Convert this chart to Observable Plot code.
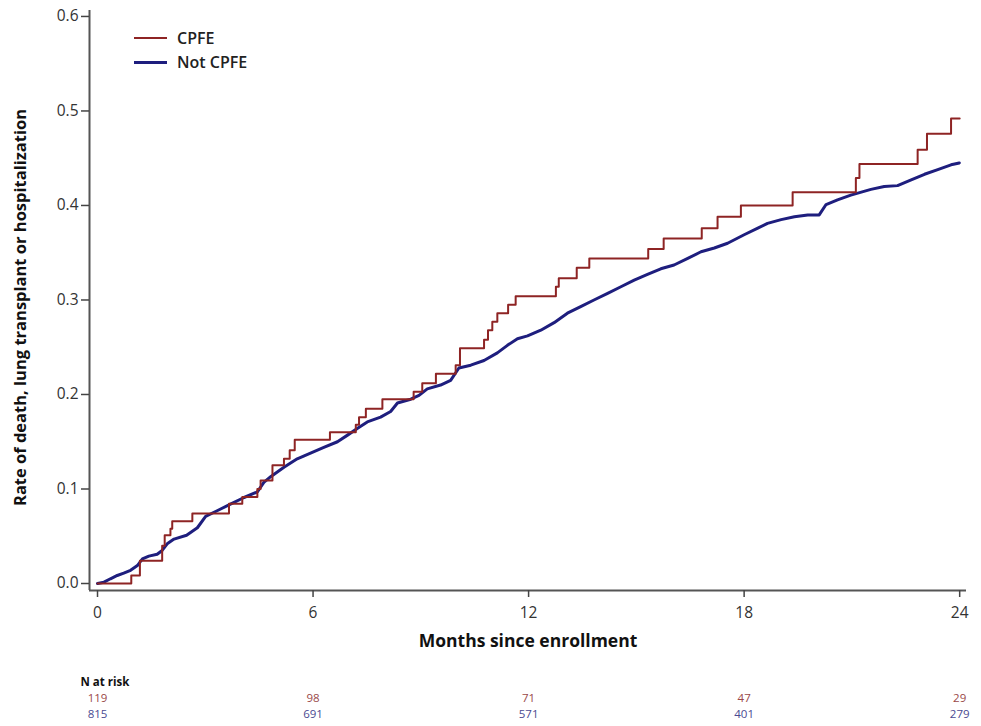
<!DOCTYPE html>
<html>
<head>
<meta charset="utf-8">
<script src="https://cdn.jsdelivr.net/npm/d3@7"></script>
<script src="https://cdn.jsdelivr.net/npm/@observablehq/plot@0.6"></script>
<style>
  html, body { margin: 0; padding: 0; background: #fff; }
  #wrap { position: relative; width: 981px; height: 726px; font-family: "Open Sans", sans-serif; }
  #legend { position: absolute; left: 134px; top: 26px; font: 600 16px "Open Sans", sans-serif; color: #222; }
  .lg { display: flex; align-items: center; height: 24px; }
  .sw { width: 33px; height: 0; margin-right: 10px; }
</style>
</head>
<body>
<div id="wrap">
  <div id="chart"></div>
  <div id="legend">
    <div class="lg"><span class="sw" style="border-top:2.5px solid #8e2424"></span>CPFE</div>
    <div class="lg"><span class="sw" style="border-top:3px solid #1e1e7e"></span>Not CPFE</div>
  </div>
</div>
<script>
// ---- Data ----
const cpfeMonths = [0, 0.94, 1.18, 1.80, 1.87, 2.03, 2.08, 2.64, 3.66, 4.03, 4.45, 4.54, 4.87, 5.19, 5.35, 5.49, 6.47, 7.19, 7.28, 7.47, 7.93, 8.80, 9.04, 9.42, 9.97, 10.09, 10.76, 10.87, 10.99, 11.13, 11.43, 11.64, 12.76, 12.84, 13.34, 13.69, 15.33, 15.76, 16.82, 17.26, 17.91, 19.35, 21.11, 21.21, 22.83, 23.09, 23.76, 24.0];
const cpfeRate   = [0, 0.0084, 0.024, 0.040, 0.051, 0.058, 0.066, 0.074, 0.0845, 0.0915, 0.100, 0.109, 0.125, 0.132, 0.141, 0.152, 0.160, 0.168, 0.176, 0.185, 0.195, 0.203, 0.212, 0.222, 0.231, 0.249, 0.258, 0.268, 0.277, 0.286, 0.295, 0.304, 0.314, 0.323, 0.334, 0.344, 0.354, 0.365, 0.376, 0.388, 0.400, 0.414, 0.429, 0.444, 0.459, 0.476, 0.492, 0.492];

const notMonths = [0, 0.18, 0.36, 0.55, 0.73, 0.92, 1.11, 1.25, 1.43, 1.66, 1.80, 1.94, 2.13, 2.48, 2.78, 3.01, 3.33, 3.70, 4.08, 4.45, 4.63, 4.82, 5.19, 5.56, 5.93, 6.30, 6.68, 6.96, 7.23, 7.51, 7.88, 8.16, 8.35, 8.72, 8.95, 9.18, 9.55, 9.83, 10.06, 10.39, 10.76, 11.13, 11.41, 11.69, 11.97, 12.34, 12.71, 13.08, 13.45, 13.82, 14.20, 14.57, 14.94, 15.31, 15.68, 16.05, 16.43, 16.80, 17.17, 17.54, 18.00, 18.38, 18.65, 19.03, 19.40, 19.77, 20.09, 20.28, 20.60, 20.97, 21.53, 21.90, 22.27, 22.65, 23.02, 23.39, 23.76, 23.99];
const notRate   = [0, 0.0014, 0.005, 0.0085, 0.011, 0.014, 0.019, 0.026, 0.029, 0.031, 0.035, 0.042, 0.047, 0.051, 0.059, 0.071, 0.077, 0.084, 0.091, 0.097, 0.107, 0.113, 0.123, 0.132, 0.138, 0.144, 0.150, 0.157, 0.164, 0.171, 0.176, 0.182, 0.191, 0.195, 0.199, 0.206, 0.210, 0.215, 0.228, 0.231, 0.236, 0.244, 0.252, 0.259, 0.262, 0.268, 0.276, 0.286, 0.293, 0.300, 0.307, 0.314, 0.321, 0.327, 0.333, 0.337, 0.344, 0.351, 0.355, 0.360, 0.369, 0.376, 0.381, 0.385, 0.388, 0.390, 0.390, 0.401, 0.406, 0.411, 0.417, 0.420, 0.421, 0.427, 0.433, 0.438, 0.443, 0.445];

const riskMonths = [0, 6, 12, 18, 24];
const riskCPFE   = [119, 98, 71, 47, 29];
const riskNot    = [815, 691, 571, 401, 279];

const xTicks = [0, 6, 12, 18, 24];
const yTicks = [0, 0.1, 0.2, 0.3, 0.4, 0.5, 0.6];

const xLabel = "Months since enrollment";
const yLabel = "Rate of death, lung transplant or hospitalization";
const riskTitle = "N at risk";

// ---- Build tables ----
const cpfe = cpfeMonths.map((m, i) => ({month: m, rate: cpfeRate[i]}));
const notCpfe = notMonths.map((m, i) => ({month: m, rate: notRate[i]}));
const risk = riskMonths.map((m, i) => ({month: m, cpfe: riskCPFE[i], not: riskNot[i]}));

const xDomain = [-0.223, 24.19];
const yDomain = [-0.0074, 0.6063];

const chart = Plot.plot({
  width: 981,
  height: 726,
  marginLeft: 89,
  marginRight: 15,
  marginTop: 10,
  marginBottom: 136,
  x: {domain: xDomain},
  y: {domain: yDomain},
  style: {fontFamily: "'Open Sans', sans-serif", fontSize: "15px", color: "#333", background: "#fff"},
  marks: [
    Plot.ruleX([xDomain[0]], {stroke: "#555", strokeWidth: 2}),
    Plot.ruleY([yDomain[0]], {stroke: "#555", strokeWidth: 2}),
    Plot.axisX({ticks: xTicks, tickSize: 7, tickPadding: 9, label: null, stroke: "#444", strokeWidth: 1.5, fontSize: 15.5}),
    Plot.axisY({ticks: yTicks, tickSize: 8, tickPadding: 3, tickFormat: ".1f", label: null, stroke: "#444", strokeWidth: 1.5, fontSize: 15.5}),
    Plot.line(notCpfe, {x: "month", y: "rate", stroke: "#1e1e7e", strokeWidth: 3, strokeLinejoin: "round"}),
    Plot.line(cpfe, {x: "month", y: "rate", curve: "step-after", stroke: "#8e2424", strokeWidth: 2}),
    Plot.text([xLabel], {frameAnchor: "bottom", dy: 56, fontWeight: "bold", fontSize: 17.5, fill: "#111"}),
    Plot.text([yLabel], {frameAnchor: "left", textAnchor: "middle", rotate: -90, dx: -69, dy: 7, fontWeight: "bold", fontSize: 16.5, fill: "#111"}),
    Plot.text([riskTitle], {frameAnchor: "bottom-left", dx: -9, dy: 95, textAnchor: "start", fontWeight: "bold", fontSize: 11.5, fill: "#111"}),
    Plot.text(risk, {x: "month", text: "cpfe", frameAnchor: "bottom", dy: 111, fontSize: 11.5, fill: "#9a4848"}),
    Plot.text(risk, {x: "month", text: "not", frameAnchor: "bottom", dy: 127, fontSize: 11.5, fill: "#4a4a92"})
  ]
});
document.getElementById("chart").appendChild(chart);
</script>
</body>
</html>
